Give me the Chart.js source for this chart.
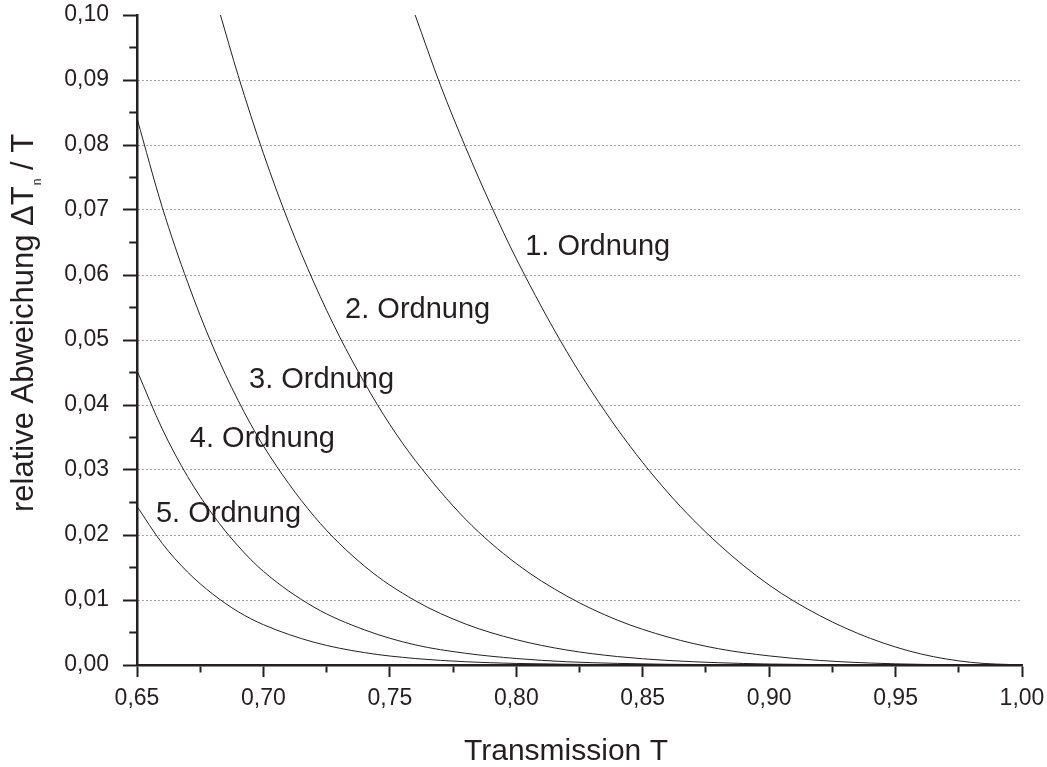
<!DOCTYPE html>
<html>
<head>
<meta charset="utf-8">
<script src="https://cdn.jsdelivr.net/npm/chart.js@4.4.1/dist/chart.umd.min.js"></script>
<style>
  html, body { margin: 0; padding: 0; background: #ffffff; }
  canvas { display: block; }
</style>
</head>
<body>
<canvas id="chart" width="1047" height="767"></canvas>
<script>
// Relative deviation ΔT_n / T of the n-th order approximation vs. transmission T
const tOrder1   = [0.760, 0.770, 0.780, 0.790, 0.800, 0.820, 0.840, 0.860, 0.880, 0.900, 0.920, 0.940, 0.960, 0.980, 1.000];
const devOrder1 = [0.1000, 0.0892, 0.0796, 0.0707, 0.0625, 0.0482, 0.0363, 0.0265, 0.0186, 0.0123, 0.0076, 0.0041, 0.0017, 0.0004, 0];

const tOrder2   = [0.683, 0.690, 0.700, 0.710, 0.720, 0.730, 0.740, 0.750, 0.760, 0.780, 0.800, 0.820, 0.840, 0.860, 0.880, 0.900, 0.920, 0.940, 0.960, 0.980, 1.000];
const devOrder2 = [0.1000, 0.0907, 0.0787, 0.0681, 0.0588, 0.0506, 0.0434, 0.0370, 0.0315, 0.0224, 0.0156, 0.0106, 0.0069, 0.0043, 0.0025, 0.0014, 0.0007, 0.0003, 0.0001, 0.00001, 0];

const tOrder3   = [0.650, 0.660, 0.670, 0.680, 0.690, 0.700, 0.720, 0.740, 0.760, 0.780, 0.800, 0.820, 0.840, 0.860, 0.880, 0.900, 0.920, 0.950, 1.000];
const devOrder3 = [0.0841, 0.0704, 0.0589, 0.0490, 0.0407, 0.0337, 0.0229, 0.0152, 0.0099, 0.0063, 0.0039, 0.0023, 0.0013, 0.0007, 0.00035, 0.00015, 0.00006, 0.00001, 0];

const tOrder4   = [0.650, 0.660, 0.670, 0.680, 0.690, 0.700, 0.720, 0.740, 0.760, 0.780, 0.800, 0.820, 0.840, 0.860, 0.880, 0.920, 1.000];
const devOrder4 = [0.0453, 0.0363, 0.0290, 0.0231, 0.0183, 0.0144, 0.0089, 0.0054, 0.0031, 0.0018, 0.0010, 0.0005, 0.00025, 0.00011, 0.00005, 0.00001, 0];

const tOrder5   = [0.650, 0.660, 0.670, 0.680, 0.690, 0.700, 0.720, 0.740, 0.760, 0.780, 0.800, 0.840, 0.880, 1.000];
const devOrder5 = [0.0244, 0.0187, 0.0143, 0.0109, 0.0082, 0.0062, 0.0035, 0.0019, 0.0010, 0.0005, 0.00024, 0.00005, 0.00001, 0];

// Curve captions and where their text starts (T, ΔT/T at the baseline)
const curveNames = ['1. Ordnung', '2. Ordnung', '3. Ordnung', '4. Ordnung', '5. Ordnung'];
const nameT      = [0.8035, 0.7323, 0.6943, 0.6709, 0.6575];
const nameDev    = [0.0631, 0.0534, 0.0426, 0.0335, 0.0220];

// Tick labels (decimal comma)
const xTickLabels = ['0,65', '0,70', '0,75', '0,80', '0,85', '0,90', '0,95', '1,00'];
const yTickLabels = ['0,00', '0,01', '0,02', '0,03', '0,04', '0,05', '0,06', '0,07', '0,08', '0,09', '0,10'];

const xTitle = 'Transmission T';
const yTitleParts = ['relative Abweichung \u0394T', 'n', ' / T'];

const INK = '#231f20';
const FONT = '"Liberation Sans", Arial, Helvetica, sans-serif';

const series = [
  [tOrder1, devOrder1], [tOrder2, devOrder2], [tOrder3, devOrder3],
  [tOrder4, devOrder4], [tOrder5, devOrder5]
];

const datasets = series.map(([ts, ds], i) => ({
  label: curveNames[i],
  data: ts.map((t, k) => ({ x: t, y: ds[k] })),
  borderColor: INK,
  borderWidth: 1,
  pointRadius: 0,
  pointHoverRadius: 0,
  fill: false,
  cubicInterpolationMode: 'monotone'
}));

const isMajorX = v => Math.round(v * 1000) % 50 === 0;
const isMajorY = v => Math.round(v * 1000) % 10 === 0;

const captionsAndTitles = {
  id: 'captionsAndTitles',
  afterDatasetsDraw(chart) {
    const { ctx, scales: { x, y }, chartArea } = chart;
    ctx.save();
    ctx.fillStyle = INK;
    ctx.textBaseline = 'alphabetic';

    // curve captions
    ctx.font = '29px ' + FONT;
    ctx.textAlign = 'left';
    curveNames.forEach((name, i) => {
      ctx.fillText(name, x.getPixelForValue(nameT[i]), y.getPixelForValue(nameDev[i]));
    });

    // x-axis title
    ctx.font = '30px ' + FONT;
    ctx.textAlign = 'center';
    ctx.fillText(xTitle, chartArea.left + 429, chartArea.bottom + 95);

    // y-axis title with subscript n
    ctx.translate(33, chartArea.bottom - 153);
    ctx.rotate(-Math.PI / 2);
    ctx.textAlign = 'left';
    ctx.font = '31px ' + FONT;
    let pos = 0;
    ctx.fillText(yTitleParts[0], pos, 0);
    pos += ctx.measureText(yTitleParts[0]).width + 1;
    ctx.font = '12px ' + FONT;
    ctx.fillText(yTitleParts[1], pos, 8);
    pos += ctx.measureText(yTitleParts[1]).width;
    ctx.font = '31px ' + FONT;
    ctx.fillText(yTitleParts[2], pos, 0);
    ctx.restore();
  }
};

new Chart(document.getElementById('chart'), {
  type: 'line',
  data: { datasets },
  options: {
    responsive: false,
    animation: false,
    devicePixelRatio: 1,
    layout: { padding: { top: 15, right: 25, left: 0, bottom: 0 } },
    plugins: {
      legend: { display: false },
      tooltip: { enabled: false },
      title: { display: false }
    },
    scales: {
      x: {
        type: 'linear',
        min: 0.65,
        max: 1.0,
        afterFit: s => { s.height = 102; s.paddingLeft = 0; s.paddingRight = 0; },
        afterBuildTicks: s => {
          s.ticks = [];
          for (let k = 0; k <= 14; k++) s.ticks.push({ value: 0.65 + k * 0.025 });
        },
        ticks: {
          autoSkip: false,
          maxRotation: 0,
          padding: 8,
          color: INK,
          font: { family: FONT, size: 23 },
          callback: v => isMajorX(v) ? xTickLabels[Math.round((v - 0.65) * 20)] : ''
        },
        grid: {
          drawOnChartArea: false,
          tickLength: 12,
          tickWidth: 2,
          tickColor: INK,
          tickBorderDash: c => (c.tick && isMajorX(c.tick.value)) ? [] : [6, 40]
        },
        border: { display: true, color: INK, width: 2.5 }
      },
      y: {
        type: 'linear',
        min: 0,
        max: 0.1,
        afterFit: s => { s.width = 137; s.paddingTop = 0; s.paddingBottom = 0; },
        afterBuildTicks: s => {
          s.ticks = [];
          for (let k = 0; k <= 20; k++) s.ticks.push({ value: k * 0.005 });
        },
        ticks: {
          autoSkip: false,
          padding: 14,
          color: INK,
          font: { family: FONT, size: 23 },
          callback: v => isMajorY(v) ? yTickLabels[Math.round(v * 100)] : ''
        },
        grid: {
          drawOnChartArea: true,
          lineWidth: 1,
          color: c => {
            if (!c.tick) return 'rgba(0,0,0,0)';
            const k = Math.round(c.tick.value * 1000);
            return (k % 10 === 0 && k > 0 && k < 100) ? '#4a4a4a' : 'rgba(0,0,0,0)';
          },
          tickLength: 14,
          tickWidth: 2,
          tickColor: INK,
          tickBorderDash: c => (c.tick && isMajorY(c.tick.value)) ? [] : [0, 6.25, 40]
        },
        border: { display: true, color: INK, width: 2.5, dash: [1, 3] }
      }
    }
  },
  plugins: [captionsAndTitles]
});
</script>
</body>
</html>
